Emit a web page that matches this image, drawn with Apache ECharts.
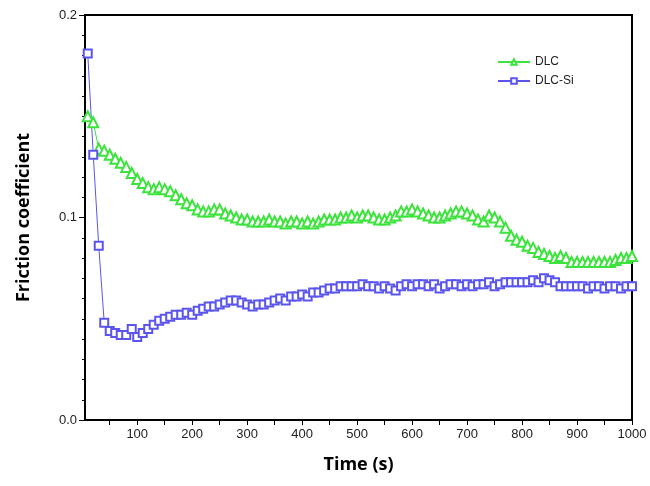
<!DOCTYPE html>
<html>
<head>
<meta charset="utf-8">
<script src="https://cdn.jsdelivr.net/npm/echarts@6/dist/echarts.min.js"></script>
<style>
  html, body { margin: 0; padding: 0; background: #fff; }
  #chart { width: 650px; height: 486px; }
</style>
</head>
<body>
<div id="chart"></div>
<script>
// sampling times (s), one point every 10 s
const times = [];
for (let t = 10; t <= 1000; t += 10) times.push(t);

// friction coefficient
const dlc = [
  0.150, 0.147, 0.134, 0.133, 0.131, 0.129, 0.127, 0.125, 0.122, 0.119,
  0.117, 0.115, 0.114, 0.115, 0.114, 0.113, 0.111, 0.109, 0.107, 0.106,
  0.104, 0.103, 0.103, 0.104, 0.104, 0.102, 0.101, 0.100, 0.099, 0.099,
  0.098, 0.098, 0.098, 0.099, 0.098, 0.098, 0.097, 0.098, 0.098, 0.097,
  0.098, 0.097, 0.098, 0.099, 0.099, 0.099, 0.100, 0.100, 0.101, 0.100,
  0.101, 0.101, 0.100, 0.099, 0.099, 0.100, 0.101, 0.103, 0.103, 0.104,
  0.103, 0.102, 0.101, 0.100, 0.100, 0.101, 0.102, 0.103, 0.103, 0.102,
  0.101, 0.099, 0.098, 0.101, 0.100, 0.098, 0.095, 0.091, 0.089, 0.088,
  0.086, 0.085, 0.083, 0.082, 0.081, 0.080, 0.081, 0.080, 0.078, 0.078,
  0.078, 0.078, 0.078, 0.078, 0.078, 0.078, 0.079, 0.080, 0.080, 0.081
];
const dlcSi = [
  0.181, 0.131, 0.086, 0.048, 0.044, 0.043, 0.042, 0.042, 0.045, 0.041,
  0.043, 0.045, 0.047, 0.049, 0.050, 0.051, 0.052, 0.052, 0.053, 0.052,
  0.054, 0.055, 0.056, 0.056, 0.057, 0.058, 0.059, 0.059, 0.058, 0.057,
  0.056, 0.057, 0.057, 0.058, 0.059, 0.060, 0.059, 0.061, 0.061, 0.062,
  0.061, 0.063, 0.063, 0.064, 0.065, 0.065, 0.066, 0.066, 0.066, 0.066,
  0.067, 0.066, 0.066, 0.065, 0.066, 0.065, 0.064, 0.066, 0.067, 0.066,
  0.067, 0.067, 0.066, 0.067, 0.065, 0.066, 0.067, 0.067, 0.066, 0.067,
  0.066, 0.067, 0.067, 0.068, 0.066, 0.067, 0.068, 0.068, 0.068, 0.068,
  0.068, 0.069, 0.068, 0.070, 0.069, 0.068, 0.066, 0.066, 0.066, 0.066,
  0.066, 0.065, 0.066, 0.066, 0.065, 0.066, 0.066, 0.065, 0.066, 0.066
];

// tick positions
const xLabels = [100, 200, 300, 400, 500, 600, 700, 800, 900, 1000];
const xTicks = [50, 100, 150, 200, 250, 300, 350, 400, 450, 500,
  550, 600, 650, 700, 750, 800, 850, 900, 950, 1000];

const chart = echarts.init(document.getElementById('chart'));

const tickFont = { fontFamily: 'Liberation Sans, Arial, sans-serif', fontSize: 13, color: '#222' };

chart.setOption({
  animation: false,
  grid: {
    left: 85, right: 18, top: 15, bottom: 66,
    show: true, borderColor: '#000', borderWidth: 2
  },
  legend: {
    orient: 'vertical',
    left: 492, top: 51,
    itemWidth: 32, itemHeight: 7, itemGap: 7,
    textStyle: { fontFamily: 'Liberation Sans, Arial, sans-serif', fontSize: 12, color: '#222' },
    data: ['DLC', 'DLC-Si']
  },
  xAxis: {
    type: 'value', min: 5, max: 1000,
    name: 'Time (s)', nameLocation: 'middle', nameGap: 36,
    nameTextStyle: { fontFamily: 'Open Sans', fontWeight: 'bold', fontSize: 18, color: '#000' },
    axisLine: { lineStyle: { color: '#000', width: 2 } },
    axisTick: { customValues: xTicks, length: 5, lineStyle: { color: '#000' } },
    axisLabel: Object.assign({ customValues: xLabels, margin: 8, formatter: v => String(v) }, tickFont),
    splitLine: { show: false }
  },
  yAxis: {
    type: 'value', min: 0, max: 0.2, interval: 0.1,
    name: 'Friction coefficient', nameLocation: 'middle', nameGap: 52,
    nameTextStyle: { fontFamily: 'Open Sans', fontWeight: 'bold', fontSize: 18, color: '#000' },
    axisLine: { show: true, lineStyle: { color: '#000', width: 2 } },
    axisTick: { length: 6, lineStyle: { color: '#000' } },
    minorTick: { show: true, splitNumber: 10, length: 3, lineStyle: { color: '#000' } },
    axisLabel: Object.assign({ formatter: v => v.toFixed(1), margin: 8 }, tickFont),
    splitLine: { show: false }
  },
  series: [{
    name: 'DLC', type: 'line',
    data: times.map((t, i) => [t, dlc[i]]),
    symbol: 'emptyTriangle', symbolSize: 10,
    lineStyle: { color: '#3ce33c', width: 1 },
    itemStyle: { color: '#3ce33c', borderWidth: 1 }
  }, {
    name: 'DLC-Si', type: 'line',
    data: times.map((t, i) => [t, dlcSi[i]]),
    symbol: 'emptyRect', symbolSize: 8,
    lineStyle: { color: '#5b55ee', width: 1 },
    itemStyle: { color: '#5b55ee', borderWidth: 1 }
  }]
});
</script>
</body>
</html>
